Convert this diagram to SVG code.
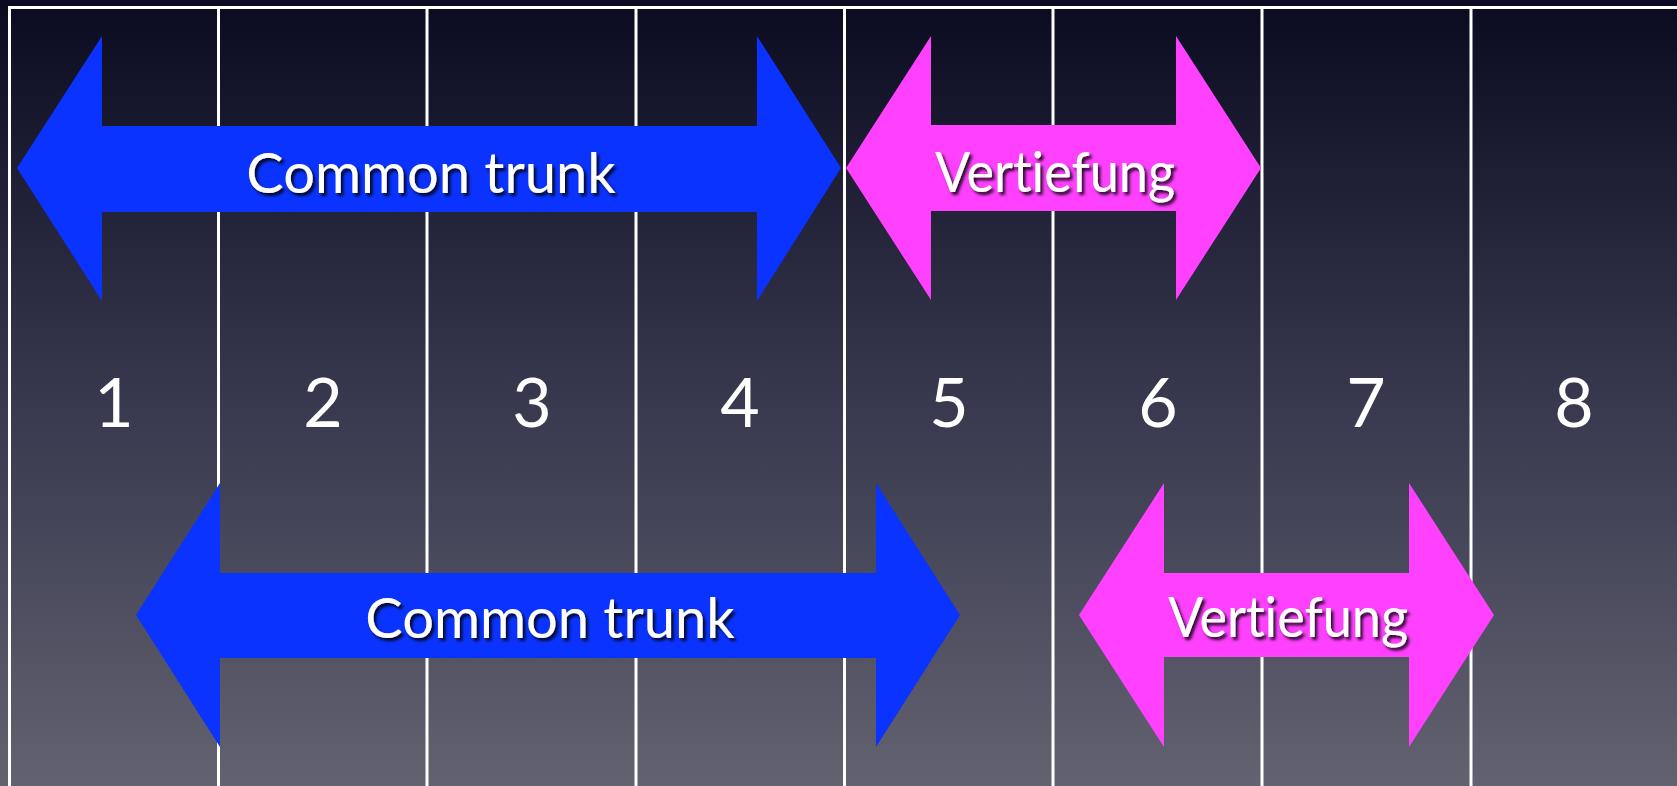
<svg xmlns="http://www.w3.org/2000/svg" width="1677" height="786" viewBox="0 0 1677 786">
  <defs>
    <linearGradient id="bg" x1="0" y1="0" x2="0" y2="1">
      <stop offset="0" stop-color="#0a0a20"/>
      <stop offset="0.5" stop-color="#37374e"/>
      <stop offset="1" stop-color="#626270"/>
    </linearGradient>
    <filter id="shadow" x="-10%" y="-30%" width="120%" height="160%">
      <feDropShadow dx="2.5" dy="3" stdDeviation="1.6" flood-color="#000000" flood-opacity="0.85"/>
    </filter>
  </defs>
  <style>
    .grid { stroke: #ffffff; stroke-width: 3; fill: none; }
    .blue { fill: #0a33ff; }
    .pink { fill: #ff40ff; }
    .label { font-family: Lato, "Open Sans", "Liberation Sans", sans-serif; font-size: 56px; fill: #ffffff; text-anchor: middle; filter: url(#shadow); font-variant-ligatures: none; font-feature-settings: "liga" 0; }
    .num { font-family: Lato, "Open Sans", "Liberation Sans", sans-serif; font-size: 68px; fill: #ffffff; text-anchor: middle; }
  </style>
  <rect x="0" y="0" width="1677" height="786" fill="url(#bg)"/>
  <g id="grid">
    <line class="grid" x1="8" y1="7.5" x2="1677" y2="7.5"/>
    <line class="grid" x1="9.5" y1="6" x2="9.5" y2="786"/>
    <line class="grid" x1="218.5" y1="6" x2="218.5" y2="786"/>
    <line class="grid" x1="427" y1="6" x2="427" y2="786"/>
    <line class="grid" x1="636" y1="6" x2="636" y2="786"/>
    <line class="grid" x1="844.5" y1="6" x2="844.5" y2="786"/>
    <line class="grid" x1="1053" y1="6" x2="1053" y2="786"/>
    <line class="grid" x1="1262" y1="6" x2="1262" y2="786"/>
    <line class="grid" x1="1471" y1="6" x2="1471" y2="786"/>
  </g>
  <g id="numbers">
    <text class="num" x="114" y="427">1</text>
    <text class="num" x="323" y="427">2</text>
    <text class="num" x="532" y="427">3</text>
    <text class="num" x="740" y="427">4</text>
    <text class="num" x="949" y="427">5</text>
    <text class="num" x="1158" y="427">6</text>
    <text class="num" x="1366" y="427">7</text>
    <text class="num" x="1574" y="427">8</text>
  </g>
  <g id="connectors">
    <g id="arrow-top-common">
      <polygon class="blue" points="17,168 102,36 102,126 757,126 757,36 841,168 757,301 757,212 102,212 102,301"/>
      <text class="label" x="431" y="193">Common trunk</text>
    </g>
    <g id="arrow-top-vertiefung">
      <polygon class="pink" points="846,168 931,36 931,125 1176,125 1176,36 1261,168 1176,300 1176,211 931,211 931,300"/>
      <text class="label" x="1055" y="192" textLength="240" lengthAdjust="spacingAndGlyphs">Vertiefung</text>
    </g>
    <g id="arrow-bottom-common">
      <polygon class="blue" points="136,615 220,483 220,573 876,573 876,483 960,615 876,747 876,658 220,658 220,747"/>
      <text class="label" x="550" y="638">Common trunk</text>
    </g>
    <g id="arrow-bottom-vertiefung">
      <polygon class="pink" points="1079,615 1164,483 1164,573 1409,573 1409,483 1494,615 1409,747 1409,657 1164,657 1164,747"/>
      <text class="label" x="1288" y="637" textLength="240" lengthAdjust="spacingAndGlyphs">Vertiefung</text>
    </g>
  </g>
</svg>
